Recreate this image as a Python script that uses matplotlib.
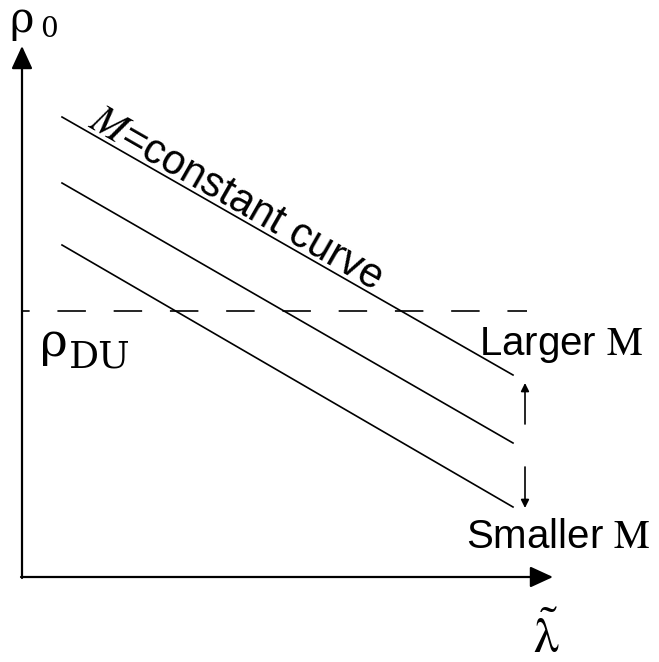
import matplotlib
matplotlib.use("Agg")
import matplotlib.pyplot as plt

plt.rcParams["font.family"] = ["Liberation Sans", "DejaVu Sans"]
plt.rcParams["mathtext.fontset"] = "stix"
plt.rcParams["lines.scale_dashes"] = False

# schematic geometry (pixel-like units, y grows downward)
curve_x = [62, 513]
curve_top = [117, 375]
curve_mid = [183, 443]
curve_bot = [245, 507]
rho_du_level = 311
dash_x = [22, 527]

fig = plt.figure(figsize=(6.59, 6.62), dpi=100)
ax = fig.add_axes([0, 0, 1, 1])
ax.set_xlim(0, 659)
ax.set_ylim(662, 0)
ax.axis("off")

head = "-|>,head_length=0.5,head_width=0.23"
# axes with arrows
ax.annotate("", xy=(22, 46), xytext=(22, 578),
            arrowprops=dict(arrowstyle=head, lw=1.6, color="black",
                            mutation_scale=28, shrinkA=0, shrinkB=0))
ax.annotate("", xy=(553, 577), xytext=(21, 577),
            arrowprops=dict(arrowstyle=head, lw=1.6, color="black",
                            mutation_scale=28, shrinkA=0, shrinkB=0))

# M = constant curves
for ys in (curve_top, curve_mid, curve_bot):
    ax.plot(curve_x, ys, color="black", lw=1.2)

# rho_DU dashed level
ax.plot(dash_x, [rho_du_level, rho_du_level], color="black", lw=1.2,
        linestyle=(15, (20.5, 20.0)))

# small arrows between curves
ax.annotate("", xy=(525, 383), xytext=(525, 424),
            arrowprops=dict(arrowstyle="-|>", lw=1.2, color="black",
                            mutation_scale=12, shrinkA=0, shrinkB=0))
ax.annotate("", xy=(525, 508), xytext=(525, 467),
            arrowprops=dict(arrowstyle="-|>", lw=1.2, color="black",
                            mutation_scale=12, shrinkA=0, shrinkB=0))

# labels
serif = ["DejaVu Serif"]
ax.text(9, 32, "ρ", fontsize=30, family=serif, ha="left", va="baseline")
ax.text(40, 37, "0", fontsize=20, family=serif, ha="left", va="baseline")
ax.text(40, 356, "ρ", fontsize=34, family=serif, ha="left", va="baseline")
ax.text(69, 367, "DU", fontsize=27, family=serif, ha="left", va="baseline")
ax.text(533, 653, r"$\tilde{\mathrm{\lambda}}$", fontsize=36, ha="left", va="baseline")
ax.text(479, 355, r"Larger $\mathrm{M}$", fontsize=29, ha="left", va="baseline")
ax.text(466, 548, r"Smaller $\mathrm{M}$", fontsize=29, ha="left", va="baseline")
ax.text(87, 126, r"$M$=constant curve", fontsize=30, ha="left", va="baseline",
        rotation=-29.8, rotation_mode="anchor")

fig.savefig("out.png", dpi=100)
